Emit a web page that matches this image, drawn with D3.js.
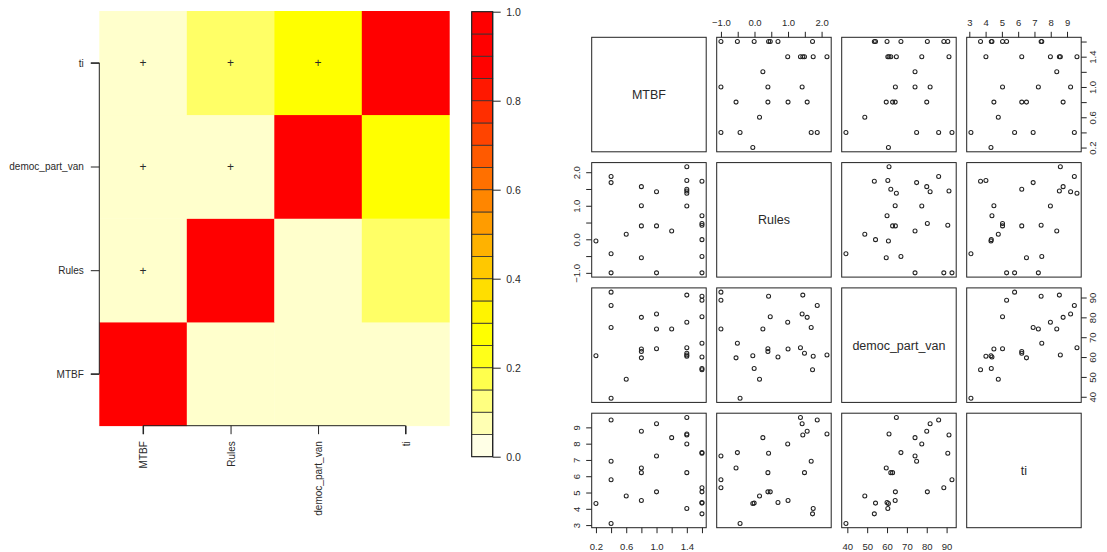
<!DOCTYPE html>
<html><head><meta charset="utf-8">
<script src="https://cdnjs.cloudflare.com/ajax/libs/d3/7.8.5/d3.min.js"></script>
<style>body{margin:0;background:#fff}svg{display:block}text{font-family:"Liberation Sans",Arial,sans-serif;fill:#2a2a2a}</style>
</head><body><svg id="c" width="1107" height="552"></svg>
<script>
// ---------- data ----------
const vars = ["MTBF", "Rules", "democ_part_van", "ti"];
// correlation-style strengths shown in the heat map (rows/cols in vars order)
const heatMTBF  = [1.00, 0.05, 0.05, 0.05];
const heatRules = [0.05, 1.00, 0.05, 0.15];
const heatDemoc = [0.05, 0.05, 1.00, 0.27];
const heatTi    = [0.05, 0.15, 0.27, 1.00];
// cells marked with "+" : [rowVar, colVar]
const marked = [["ti","MTBF"],["ti","Rules"],["ti","democ_part_van"],["democ_part_van","MTBF"],["democ_part_van","Rules"],["Rules","MTBF"]];
const colorbarTicks = [0, 0.2, 0.4, 0.6, 0.8, 1.0];
const colorbarBins = 20;

// observations
const MTBF  = [0.2,0.4,0.4,0.4,0.4,0.6,0.8,0.8,0.8,0.8,1.0,1.0,1.0,1.2,1.4,1.4,1.4,1.4,1.4,1.4,1.6,1.6,1.6,1.6,1.6,1.6,1.6];
const Rules = [-0.05,-0.43,1.69,1.87,-1.00,0.15,-0.55,0.40,1.00,1.57,-1.00,0.40,1.42,0.25,2.16,1.75,1.49,1.44,1.37,0.99,1.73,0.70,0.47,0.42,-0.01,-0.51,-1.00];
const democ = [60.7,39.3,74.9,86.0,92.7,48.8,59.6,62.8,64.1,80.0,74.1,64.2,81.7,74.1,61.0,60.4,61.9,91.2,64.7,77.5,53.6,60.0,80.3,90.6,54.2,67.0,88.6];
const ti    = [4.33,3.10,6.92,9.45,5.78,4.78,6.51,6.22,4.51,8.76,7.24,5.04,9.22,8.37,8.59,4.02,6.22,8.53,9.61,7.98,3.69,4.39,5.04,7.41,4.35,7.45,5.29];

// axis ticks / labels of the pairs plot
const ticksMTBF  = [0.2,0.4,0.6,0.8,1.0,1.2,1.4,1.6];
const labelsMTBF = [0.2,0.6,1.0,1.4];
const ticksRules  = [-1.0,-0.5,0,0.5,1.0,1.5,2.0];
const labelsRules = [-1.0,0,1.0,2.0];
const ticksDemoc  = [40,50,60,70,80,90];
const labelsDemoc = [40,50,60,70,80,90];
const ticksTi  = [3,4,5,6,7,8,9];
const labelsTi = [3,4,5,6,7,8,9];

// ---------- drawing ----------
const svg = d3.select("#c");
svg.append("rect").attr("width",1107).attr("height",552).attr("fill","#fff");

function heat(v){
  if (v <= 0.25) return d3.rgb(255,255,Math.round(255*(1 - v/0.25))).toString();
  const g = Math.max(0, Math.min(255, Math.round(255*(0.88 - v)/0.58)));
  return d3.rgb(255,g,0).toString();
}

// Heat map
const heatRows = {"MTBF":heatMTBF,"Rules":heatRules,"democ_part_van":heatDemoc,"ti":heatTi};
const hx = d3.scaleBand().domain(vars).range([99.3, 449.3]);
const hy = d3.scaleBand().domain(vars.slice().reverse()).range([11, 425.7]);
const cells = [];
vars.forEach(r => vars.forEach((c,ci) => cells.push({r, c, v: heatRows[r][ci]})));
const hg = svg.append("g");
hg.selectAll("rect").data(cells).join("rect")
  .attr("x", d => hx(d.c)).attr("y", d => hy(d.r))
  .attr("width", hx.bandwidth()+0.4).attr("height", hy.bandwidth()+0.4)
  .attr("fill", d => heat(d.v));
hg.selectAll("text.plus").data(marked).join("text").attr("class","plus")
  .attr("x", d => hx(d[1]) + hx.bandwidth()/2)
  .attr("y", d => hy(d[0]) + hy.bandwidth()/2)
  .attr("text-anchor","middle").attr("dy","0.36em")
  .style("font-size","12px").text("+");

// heatmap axes
const hyc = d3.scalePoint().domain(vars.slice().reverse()).range([hy("ti")+hy.bandwidth()/2, hy("MTBF")+hy.bandwidth()/2]);
const hxc = d3.scalePoint().domain(vars).range([hx("MTBF")+hx.bandwidth()/2, hx("ti")+hx.bandwidth()/2]);
const ax1 = svg.append("g").attr("transform","translate(99.3,0)")
  .call(d3.axisLeft(hyc).tickSize(8.5).tickPadding(7));
ax1.selectAll("text").style("font-size","10px").attr("fill","#2a2a2a");
const ax2 = svg.append("g").attr("transform","translate(0,425.7)")
  .call(d3.axisBottom(hxc).tickSize(8.5));
ax2.selectAll("text").style("font-size","10px")
  .attr("transform","rotate(-90)").attr("text-anchor","end")
  .attr("x",-15.5).attr("y",0).attr("dy","0.35em");
[ax1,ax2].forEach(a => { a.selectAll("path,line").attr("stroke","#222"); a.select(".domain").attr("stroke","#222"); });
ax1.select(".domain").attr("d", `M-8.5,${hyc.range()[0]}H0V${hyc.range()[1]}H-8.5`);
ax2.select(".domain").attr("d", `M${hxc.range()[0]},8.5V0H${hxc.range()[1]}V8.5`);

// colour bar
const cb = d3.scaleLinear().domain([0,1]).range([456.7, 11.7]);
const bins = d3.range(colorbarBins).map(i => ({lo: i/colorbarBins, hi: (i+1)/colorbarBins}));
const cg = svg.append("g");
cg.selectAll("rect").data(bins).join("rect")
  .attr("x",471.7).attr("width",21)
  .attr("y", d => cb(d.hi)).attr("height", d => cb(d.lo)-cb(d.hi))
  .attr("fill", d => heat((d.lo+d.hi)/2)).attr("stroke","#333").attr("stroke-width",0.8);
const cax = svg.append("g").attr("transform","translate(492.7,0)")
  .call(d3.axisRight(cb).tickValues(colorbarTicks).tickFormat(d3.format(".1f")).tickSize(8).tickPadding(5.5));
cax.select(".domain").attr("stroke","#222").attr("d","M0,11.7V456.7");
cax.selectAll("line").attr("stroke","#222");
cax.selectAll("text").style("font-size","10.5px").attr("fill","#444");
cg.append("rect").attr("x",471.7).attr("y",11.7).attr("width",21).attr("height",445)
  .attr("fill","none").attr("stroke","#222").attr("stroke-width",1);

// Pairs plot
const cols = [MTBF, Rules, democ, ti];
const ticks = [ticksMTBF, ticksRules, ticksDemoc, ticksTi];
const labs  = [labelsMTBF, labelsRules, labelsDemoc, labelsTi];
const size = 114.5, px0 = 591.7, py0 = 37.3, stepX = 125, stepY = 125.3;
const sx = cols.map(a => { const e = d3.extent(a), p = (e[1]-e[0])*0.04; return d3.scaleLinear().domain([e[0]-p, e[1]+p]).range([0,size]); });
const sy = cols.map(a => { const e = d3.extent(a), p = (e[1]-e[0])*0.04; return d3.scaleLinear().domain([e[0]-p, e[1]+p]).range([size,0]); });
const fmt = (i) => (i===2 || i===3) ? d3.format("d") : d3.format(".1f");
const pts = d3.range(MTBF.length);
const hasLab = (i, d) => labs[i].some(l => Math.abs(l-d) < 1e-9);

for (let i=0;i<4;i++){
  for (let j=0;j<4;j++){
    const g = svg.append("g").attr("transform",`translate(${px0+j*stepX},${py0+i*stepY})`);
    if (i===j){
      g.append("text").attr("x",size/2).attr("y",size/2).attr("dy","0.35em")
        .attr("text-anchor","middle").style("font-size","12.5px").text(vars[i]);
    } else {
      g.selectAll("circle").data(pts).join("circle")
        .attr("cx", k => sx[j](cols[j][k])).attr("cy", k => sy[i](cols[i][k]))
        .attr("r",2.0).attr("fill","none").attr("stroke","#222").attr("stroke-width",1.05);
    }
    g.append("rect").attr("width",size).attr("height",size).attr("fill","none").attr("stroke","#222").attr("stroke-width",1);
    if (i===0 && j%2===1){
      const a = g.append("g").call(d3.axisTop(sx[j]).tickValues(ticks[j]).tickSize(5.5).tickPadding(5.8)
        .tickFormat(d => hasLab(j,d) ? fmt(j)(d) : ""));
      styleAxis(a);
    }
    if (i===3 && j%2===0){
      const a = g.append("g").attr("transform",`translate(0,${size})`).call(d3.axisBottom(sx[j]).tickValues(ticks[j]).tickSize(5.5)
        .tickFormat(d => hasLab(j,d) ? fmt(j)(d) : ""));
      styleAxis(a);
      a.selectAll("text").attr("y",22.6).attr("dy","0");
    }
    if (j===0 && i%2===1){
      const a = g.append("g").call(d3.axisLeft(sy[i]).tickValues(ticks[i]).tickSize(5.5)
        .tickFormat(d => hasLab(i,d) ? fmt(i)(d) : ""));
      styleAxis(a);
      a.selectAll("text").attr("transform","rotate(-90)").attr("text-anchor","middle").attr("x",0).attr("y",-11.8).attr("dy","0");
    }
    if (j===3 && i%2===0){
      const a = g.append("g").attr("transform",`translate(${size},0)`).call(d3.axisRight(sy[i]).tickValues(ticks[i]).tickSize(5.5)
        .tickFormat(d => hasLab(i,d) ? fmt(i)(d) : ""));
      styleAxis(a);
      a.selectAll("text").attr("transform","rotate(-90)").attr("text-anchor","middle").attr("x",0).attr("y",15.2).attr("dy","0");
    }
  }
}
function styleAxis(a){
  a.select(".domain").remove();
  a.selectAll("line").attr("stroke","#222");
  a.selectAll("text").style("font-size","9.5px").attr("fill","#2a2a2a");
}
</script></body></html>
